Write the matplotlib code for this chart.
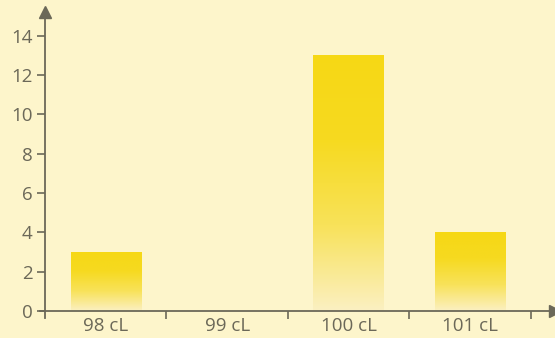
import numpy as np
import matplotlib.pyplot as plt
from matplotlib.colors import LinearSegmentedColormap

categories = ["98 cL", "99 cL", "100 cL", "101 cL"]
counts = [3, 0, 13, 4]
y_ticks = [0, 2, 4, 6, 8, 10, 12, 14]

bg = "#fdf5cb"
axis_col = "#6b6858"
cmap = LinearSegmentedColormap.from_list("fade", ["#fbf0c2", "#f8e25a", "#f6da20", "#f6d815"])

plt.rcParams["font.family"] = ["Open Sans", "DejaVu Sans"]

fig = plt.figure(figsize=(5.55, 3.38), dpi=100, facecolor=bg)
ax = fig.add_axes([45 / 555, 27 / 338, 510 / 555, 299 / 338], facecolor=bg)

x = np.arange(len(categories))
bars = ax.bar(x, counts, width=0.58, color="none", edgecolor="none")
grad = np.linspace(0, 1, 256).reshape(-1, 1)
for b in bars:
    h = b.get_height()
    if h <= 0:
        continue
    x0 = b.get_x()
    im = ax.imshow(grad, cmap=cmap, origin="lower", aspect="auto",
                   extent=(x0, x0 + b.get_width(), 0, h), zorder=2)
    im.set_clip_path(b)

ax.set_xlim(-0.5, 3.7)
ax.set_ylim(0, 15.2)

for s in ax.spines.values():
    s.set_visible(False)
# axis lines with arrow heads, crossing slightly at the origin
ax.plot([0, 0], [-0.025, 1], transform=ax.transAxes, color=axis_col, lw=1.3, clip_on=False)
ax.plot([-0.01, 1], [0, 0], transform=ax.transAxes, color=axis_col, lw=1.3, clip_on=False)
ax.plot([0], [1], marker="^", ms=8, color=axis_col, transform=ax.transAxes, clip_on=False)
ax.plot([1], [0], marker=">", ms=8, color=axis_col, transform=ax.transAxes, clip_on=False)

ax.set_yticks(y_ticks)
ax.set_yticklabels([str(v) for v in y_ticks])
ax.set_xticks(x)
ax.set_xticklabels(categories)
ax.set_xticks(np.arange(0.5, 4, 1), minor=True)
ax.tick_params(axis="x", which="major", length=0, pad=4, labelsize=13.5, labelcolor=axis_col)
ax.tick_params(axis="x", which="minor", length=6, width=1.2, color=axis_col, direction="out")
ax.tick_params(axis="y", length=6, width=1.2, color=axis_col, direction="out",
               pad=3, labelsize=13.5, labelcolor=axis_col)

fig.savefig("out.png", dpi=100, facecolor=bg)
